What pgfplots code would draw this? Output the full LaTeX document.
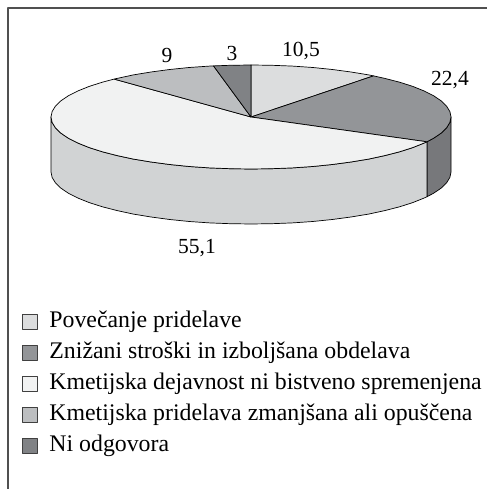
\documentclass[border=0pt]{standalone}
\usepackage{fontspec}
\setmainfont{Liberation Serif}
\usepackage{pgfplots}
\pgfplotsset{compat=1.18}
\definecolor{sa}{HTML}{DCDDDE}
\definecolor{sb}{HTML}{939598}
\definecolor{sc}{HTML}{F1F2F2}
\definecolor{sd}{HTML}{BCBEC0}
\definecolor{se}{HTML}{808285}
\definecolor{wl}{HTML}{D1D3D4}
\definecolor{wd}{HTML}{77787B}
\definecolor{fr}{HTML}{505050}
\begin{document}
\begin{tikzpicture}
\path[use as bounding box] (0,0) rectangle (487pt,489pt);
\begin{axis}[
  at={(0,0)},anchor=south west,
  scale only axis,width=487pt,height=489pt,
  xmin=-251,xmax=236,ymin=-372,ymax=117,
  hide axis,clip=false,
  legend cell align=left,
  legend image code/.code={\draw[line width=0.9pt,draw=black!75,fill=#1] (0pt,-6pt) rectangle (15pt,9pt);\path[draw=none,fill=none] (0pt,0pt) -- (27.5pt,0pt);},
  legend style={at={(axis cs:-229.5,-196)},anchor=north west,draw=none,fill=none,
    font=\fontsize{23.8}{26}\selectfont,inner sep=0pt,outer sep=0pt,
    row sep=11pt,
    nodes={inner sep=0pt,text height=15pt,text depth=5pt}},
  every axis plot/.append style={draw=black,line width=0.7pt,line join=round,mark=none},
]
% frame
\addplot[forget plot,draw=fr,line width=1.1pt] coordinates {(-243,-372) (-243,109) (236,109)};
% walls
\addplot[forget plot,fill=wd] coordinates {(200,0)(198.9,-5.4)(195.6,-10.8)(190.2,-16.1)(182.7,-21.2)(175.9,-24.8)(175.9,-79.8)(182.7,-76.2)(190.2,-71.1)(195.6,-65.8)(198.9,-60.4)(200,-55)} -- cycle;
\addplot[forget plot,fill=wl] coordinates {(175.9,-24.8)(173.2,-26)(161.8,-30.6)(148.6,-34.8)(133.8,-38.6)(117.6,-42.1)(100,-45)(81.3,-47.5)(61.8,-49.5)(41.6,-50.9)(20.9,-51.7)(0,-52)(-20.9,-51.7)(-41.6,-50.9)(-61.8,-49.5)(-81.3,-47.5)(-100,-45)(-117.6,-42.1)(-133.8,-38.6)(-148.6,-34.8)(-161.8,-30.6)(-173.2,-26)(-182.7,-21.2)(-190.2,-16.1)(-195.6,-10.8)(-198.9,-5.4)(-200,0)(-200,-55)(-198.9,-60.4)(-195.6,-65.8)(-190.2,-71.1)(-182.7,-76.2)(-173.2,-81)(-161.8,-85.6)(-148.6,-89.8)(-133.8,-93.6)(-117.6,-97.1)(-100,-100)(-81.3,-102.5)(-61.8,-104.5)(-41.6,-105.9)(-20.9,-106.7)(0,-107)(20.9,-106.7)(41.6,-105.9)(61.8,-104.5)(81.3,-102.5)(100,-100)(117.6,-97.1)(133.8,-93.6)(148.6,-89.8)(161.8,-85.6)(173.2,-81)(175.9,-79.8)} -- cycle;
% slices: 10.5, 22.4, 55.1, 9, 3
\addplot[fill=sa] coordinates {(0,0)(0,52)(20.9,51.7)(41.6,50.9)(61.8,49.5)(81.3,47.5)(100,45)(117.6,42.1)(122.6,41.1)} -- cycle;
\addplot[fill=sb] coordinates {(0,0)(122.6,41.1)(133.8,38.6)(148.6,34.8)(161.8,30.6)(173.2,26)(182.7,21.2)(190.2,16.1)(195.6,10.8)(198.9,5.4)(200,0)(198.9,-5.4)(195.6,-10.8)(190.2,-16.1)(182.7,-21.2)(175.9,-24.8)} -- cycle;
\addplot[fill=sc] coordinates {(0,0)(175.9,-24.8)(173.2,-26)(161.8,-30.6)(148.6,-34.8)(133.8,-38.6)(117.6,-42.1)(100,-45)(81.3,-47.5)(61.8,-49.5)(41.6,-50.9)(20.9,-51.7)(0,-52)(-20.9,-51.7)(-41.6,-50.9)(-61.8,-49.5)(-81.3,-47.5)(-100,-45)(-117.6,-42.1)(-133.8,-38.6)(-148.6,-34.8)(-161.8,-30.6)(-173.2,-26)(-182.7,-21.2)(-190.2,-16.1)(-195.6,-10.8)(-198.9,-5.4)(-200,0)(-198.9,5.4)(-195.6,10.8)(-190.2,16.1)(-182.7,21.2)(-173.2,26)(-161.8,30.6)(-148.6,34.8)(-136.9,37.9)} -- cycle;
\addplot[fill=sd] coordinates {(0,0)(-136.9,37.9)(-133.8,38.6)(-117.6,42.1)(-100,45)(-81.3,47.5)(-61.8,49.5)(-41.6,50.9)(-37.5,51.1)} -- cycle;
\addplot[fill=se] coordinates {(0,0)(-37.5,51.1)(-20.9,51.7)(0,52)} -- cycle;
\legend{Povečanje pridelave,Znižani stroški in izboljšana obdelava,Kmetijska dejavnost ni bistveno spremenjena,Kmetijska pridelava zmanjšana ali opuščena,Ni odgovora}
\begin{scope}[every node/.style={font=\fontsize{21.5}{24}\selectfont,inner sep=0pt}]
\node at (axis cs:50,66) {10,5};
\node at (axis cs:199,37) {22,4};
\node at (axis cs:-84,62) {9};
\node at (axis cs:-19,64) {3};
\node at (axis cs:-54,-131) {55,1};
\end{scope}
\end{axis}
\end{tikzpicture}
\end{document}
